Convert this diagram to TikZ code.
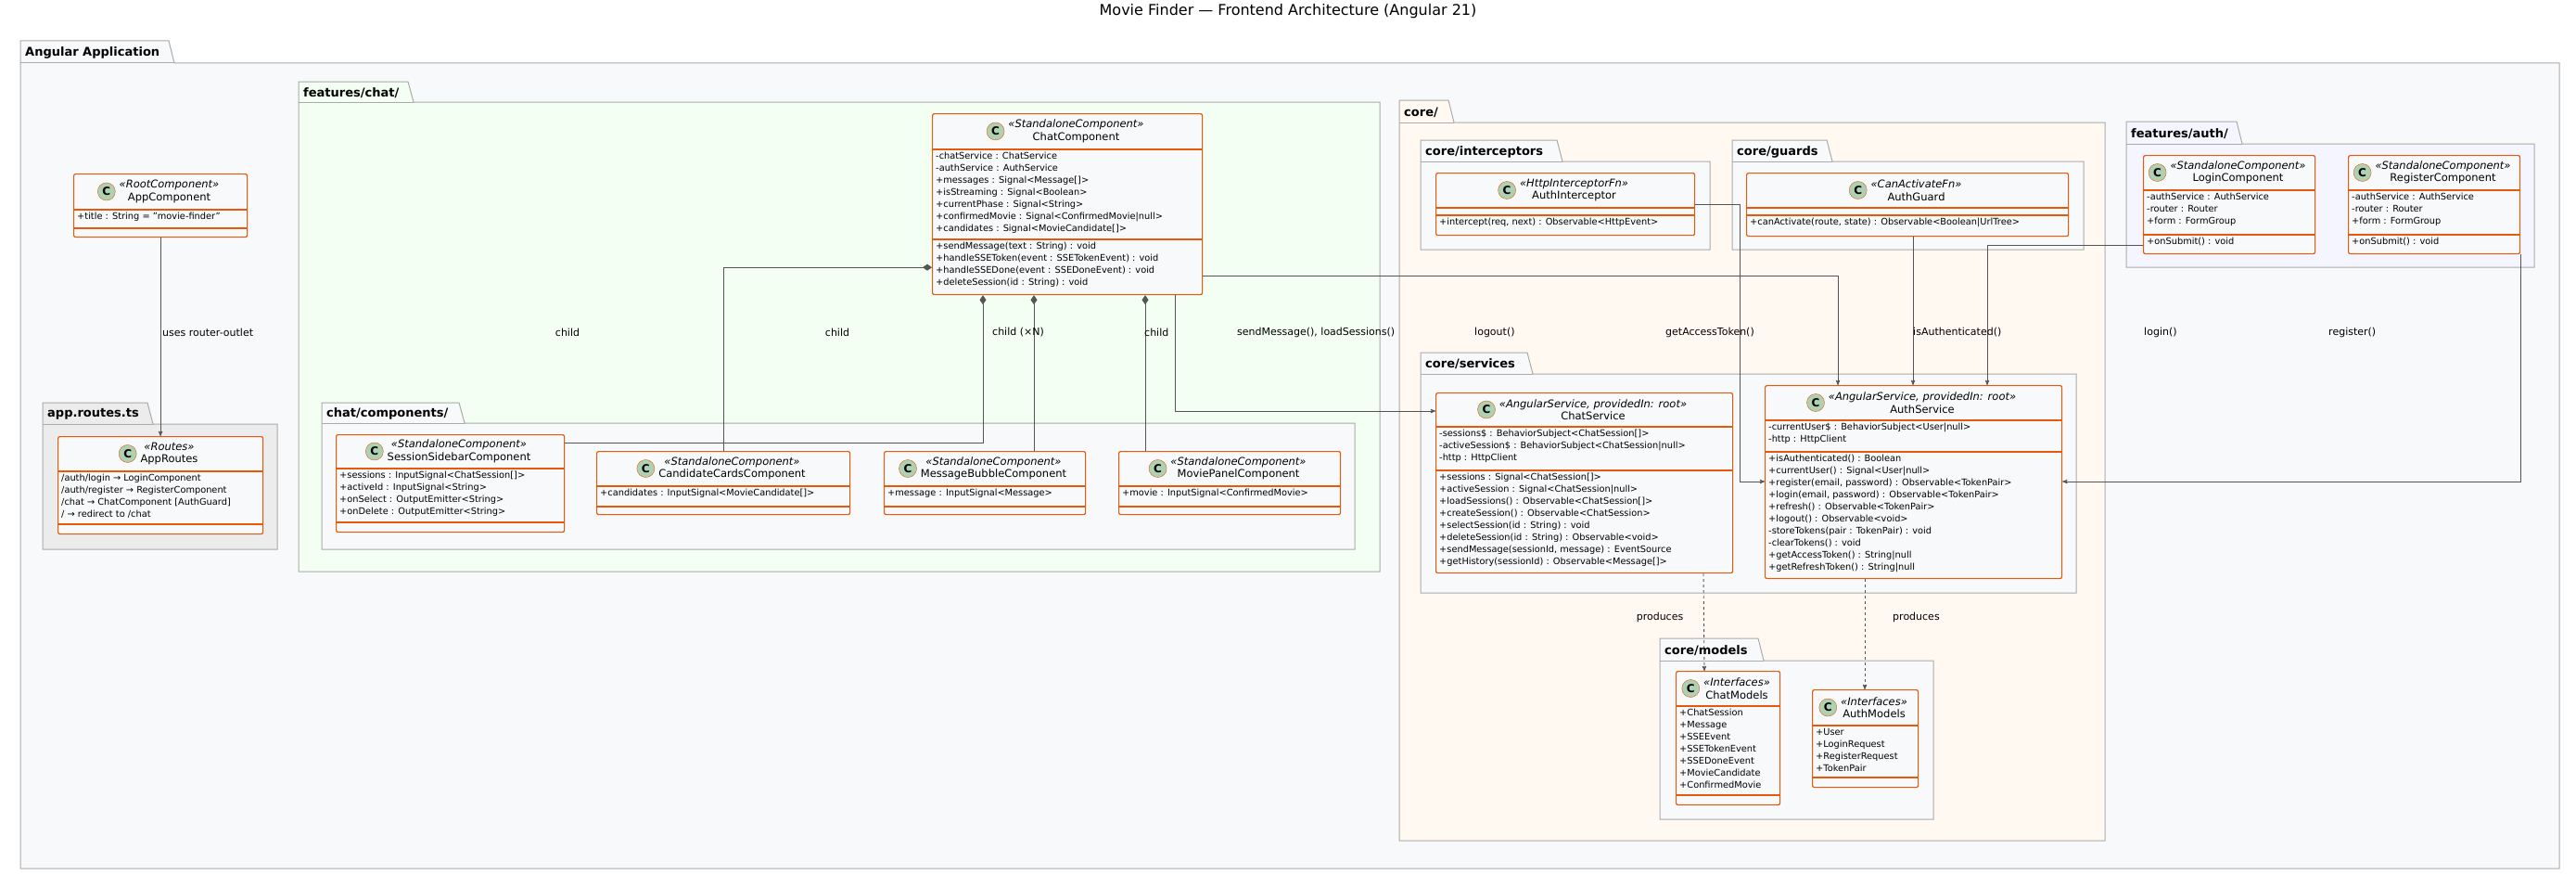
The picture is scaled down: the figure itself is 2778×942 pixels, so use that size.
\documentclass[tikz,border=0pt]{standalone}
\usepackage{fontspec}
\setmainfont{DejaVu Sans}
\usetikzlibrary{arrows,arrows.meta,positioning}

\definecolor{umlorange}{HTML}{E8590C}
\definecolor{umlfill}{HTML}{F8F9FA}
\definecolor{badge}{HTML}{ADD1B2}
\definecolor{pkgline}{HTML}{AAAAAA}
\definecolor{edge}{HTML}{555555}

\tikzset{
  cls/.style={rectangle,draw=umlorange,fill=umlfill,line width=1.2pt,rounded corners=2pt,inner sep=0pt},
  clsline/.style={draw=umlorange,line width=1.2pt},
  hdr/.style={align=center,inner sep=1pt,font=\fontsize{11.5}{13.5}\selectfont},
  cbadge/.style={circle,draw=umlorange,fill=badge,inner sep=0pt,minimum size=19pt,font=\bfseries\fontsize{12}{12}\selectfont},
  members/.style={align=left,anchor=north west,inner sep=0pt,font=\fontsize{9.8}{13}\selectfont},
  pkg/.style={draw=pkgline,line width=1pt},
  pkglabel/.style={anchor=west,inner sep=0pt,font=\bfseries\fontsize{13}{13}\selectfont},
  conn/.style={draw=edge,line width=0.9pt},
  lbl/.style={font=\fontsize{11}{13}\selectfont,inner sep=1pt},
  comp/.style={conn,{Diamond[fill=edge,length=10pt,width=7pt]}-},
}

% class box: id, x1, y1, x2, y2, header bottom, compartment line, header text
\newcommand{\umlclass}[8]{%
  \pgfmathsetmacro\clw{#4-#2}\pgfmathsetmacro\clh{#5-#3}%
  \node[cls,minimum width=\clw pt,minimum height=\clh pt,anchor=north west] (#1) at (#2,#3) {};
  \draw[clsline] (#2,#6) -- (#4,#6);
  \draw[clsline] (#2,#7) -- (#4,#7);
  \node[hdr] (#1-h) at ({(#2+#4)/2+10},{(#3+#6)/2}) {#8};
  \node[cbadge,left=3pt of #1-h] {C};
}
% package: x1, tab top, tab right, body top, x2, y2, fill, label
\newcommand{\umlpkg}[8]{%
  \draw[pkg,fill=#7] (#1,#2) -- ({#3-6},#2) -- (#3,#4) -- (#5,#4) -- (#5,#6) -- (#1,#6) -- cycle;
  \draw[pkg] (#1,#4) -- (#3,#4);
  \node[pkglabel] at ({#1+5},{(#2+#4)/2+1}) {#8};
}

\begin{document}
\begin{tikzpicture}[x=1pt,y=-1pt,>=stealth']
  \useasboundingbox (0,0) rectangle (2778,942);

  \node[font=\fontsize{16}{16}\selectfont] (title) at (1389,12) {Movie Finder — Frontend Architecture (Angular 21)};

  % packages
  \umlpkg{22}{44}{188}{68}{2760}{936}{umlfill}{Angular Application}
  \umlpkg{322}{88}{446}{110}{1488}{616}{green!5!white}{features/chat/}
  \umlpkg{347}{434}{501}{456}{1461}{592}{umlfill}{chat/components/}
  \umlpkg{46}{434}{165}{457}{299}{592}{gray!15!white}{app.routes.ts}
  \umlpkg{1509}{108}{1568}{132}{2270}{906}{orange!5!white}{core/}
  \umlpkg{1532}{151}{1685}{174}{1844}{269}{umlfill}{core/interceptors}
  \umlpkg{1868}{151}{1976}{174}{2247}{269}{umlfill}{core/guards}
  \umlpkg{1532}{380}{1653}{403}{2239}{639}{umlfill}{core/services}
  \umlpkg{1790}{688}{1902}{712}{2085}{883}{umlfill}{core/models}
  \umlpkg{2293}{131}{2418}{155}{2733}{288}{blue!4!white}{features/auth/}

  % classes
  \umlclass{appcomp}{79}{187}{266}{255}{226}{246}{\textit{«RootComponent»}\\AppComponent}
  \node[members] at (83,229) {+title : String = "movie-finder"};

  \umlclass{approutes}{62}{470}{283}{575}{508}{565}{\textit{«Routes»}\\AppRoutes}
  \node[members] at (66,511) {/auth/login → LoginComponent\\/auth/register → RegisterComponent\\/chat → ChatComponent [AuthGuard]\\/ → redirect to /chat};

  \umlclass{chatcomp}{1005}{122}{1296}{317}{161}{258}{\textit{«StandaloneComponent»}\\ChatComponent}
  \node[members] at (1009,164) {-chatService : ChatService\\-authService : AuthService\\+messages : Signal<Message[]>\\+isStreaming : Signal<Boolean>\\+currentPhase : Signal<String>\\+confirmedMovie : Signal<ConfirmedMovie|null>\\+candidates : Signal<MovieCandidate[]>};
  \node[members] at (1009,261) {+sendMessage(text : String) : void\\+handleSSEToken(event : SSETokenEvent) : void\\+handleSSEDone(event : SSEDoneEvent) : void\\+deleteSession(id : String) : void};

  \umlclass{sidebar}{362}{468}{608}{573}{505}{563}{\textit{«StandaloneComponent»}\\SessionSidebarComponent}
  \node[members] at (366,508) {+sessions : InputSignal<ChatSession[]>\\+activeId : InputSignal<String>\\+onSelect : OutputEmitter<String>\\+onDelete : OutputEmitter<String>};

  \umlclass{cards}{643}{486}{916}{554}{524}{546}{\textit{«StandaloneComponent»}\\CandidateCardsComponent}
  \node[members] at (647,527) {+candidates : InputSignal<MovieCandidate[]>};

  \umlclass{bubble}{953}{486}{1170}{554}{524}{546}{\textit{«StandaloneComponent»}\\MessageBubbleComponent}
  \node[members] at (957,527) {+message : InputSignal<Message>};

  \umlclass{moviepanel}{1206}{486}{1445}{554}{524}{546}{\textit{«StandaloneComponent»}\\MoviePanelComponent}
  \node[members] at (1210,527) {+movie : InputSignal<ConfirmedMovie>};

  \umlclass{interceptor}{1548}{186}{1827}{253}{224}{232}{\textit{«HttpInterceptorFn»}\\AuthInterceptor}
  \node[members] at (1552,235) {+intercept(req, next) : Observable<HttpEvent>};

  \umlclass{guard}{1883}{186}{2230}{254}{224}{232}{\textit{«CanActivateFn»}\\AuthGuard}
  \node[members] at (1887,235) {+canActivate(route, state) : Observable<Boolean|UrlTree>};

  \umlclass{chatsvc}{1548}{423}{1868}{617}{460}{507}{\textit{«AngularService, providedIn: root»}\\ChatService}
  \node[members] at (1552,463) {-sessions\$ : BehaviorSubject<ChatSession[]>\\-activeSession\$ : BehaviorSubject<ChatSession|null>\\-http : HttpClient};
  \node[members] at (1552,510) {+sessions : Signal<ChatSession[]>\\+activeSession : Signal<ChatSession|null>\\+loadSessions() : Observable<ChatSession[]>\\+createSession() : Observable<ChatSession>\\+selectSession(id : String) : void\\+deleteSession(id : String) : Observable<void>\\+sendMessage(sessionId, message) : EventSource\\+getHistory(sessionId) : Observable<Message[]>};

  \umlclass{authsvc}{1903}{415}{2223}{623}{453}{487}{\textit{«AngularService, providedIn: root»}\\AuthService}
  \node[members] at (1907,456) {-currentUser\$ : BehaviorSubject<User|null>\\-http : HttpClient};
  \node[members] at (1907,490) {+isAuthenticated() : Boolean\\+currentUser() : Signal<User|null>\\+register(email, password) : Observable<TokenPair>\\+login(email, password) : Observable<TokenPair>\\+refresh() : Observable<TokenPair>\\+logout() : Observable<void>\\-storeTokens(pair : TokenPair) : void\\-clearTokens() : void\\+getAccessToken() : String|null\\+getRefreshToken() : String|null};

  \umlclass{login}{2311}{167}{2496}{273}{205}{253}{\textit{«StandaloneComponent»}\\LoginComponent}
  \node[members] at (2315,208) {-authService : AuthService\\-router : Router\\+form : FormGroup};
  \node[members] at (2315,256) {+onSubmit() : void};

  \umlclass{register}{2532}{167}{2717}{273}{205}{253}{\textit{«StandaloneComponent»}\\RegisterComponent}
  \node[members] at (2536,208) {-authService : AuthService\\-router : Router\\+form : FormGroup};
  \node[members] at (2536,256) {+onSubmit() : void};

  \umlclass{chatmodels}{1807}{723}{1919}{867}{761}{857}{\textit{«Interfaces»}\\ChatModels}
  \node[members] at (1811,764) {+ChatSession\\+Message\\+SSEEvent\\+SSETokenEvent\\+SSEDoneEvent\\+MovieCandidate\\+ConfirmedMovie};

  \umlclass{authmodels}{1954}{743}{2068}{848}{782}{838}{\textit{«Interfaces»}\\AuthModels}
  \node[members] at (1958,785) {+User\\+LoginRequest\\+RegisterRequest\\+TokenPair};

  % connectors
  \draw[conn,->] (appcomp.south) -- (approutes.north);
  \draw[comp] ([xshift=55pt]chatcomp.south west) |- ([yshift=-9pt]sidebar.north east);
  \draw[comp] ([yshift=30pt]chatcomp.south west) -| (cards.north);
  \draw[comp] ([xshift=110pt]chatcomp.south west) -- ([xshift=162pt]bubble.north west);
  \draw[comp] ([xshift=230pt]chatcomp.south west) -- ([xshift=29pt]moviepanel.north west);
  \draw[conn,->] ([xshift=-30pt]chatcomp.south east) |- ([yshift=-20pt]chatsvc.north west);
  \draw[conn,->] ([yshift=21pt]chatcomp.south east) -| ([xshift=79pt]authsvc.north west);
  \draw[conn,->] ([yshift=-34pt]interceptor.north east) -| +(48,0) |- ([yshift=-104pt]authsvc.north west);
  \draw[conn,->] ([xshift=180pt]guard.south west) -- ([xshift=160pt]authsvc.north west);
  \draw[conn,->] ([yshift=10pt]login.south west) -| ([xshift=240pt]authsvc.north west);
  \draw[conn,->] ([xshift=93pt]register.south) |- ([yshift=-104pt]authsvc.north east);
  \draw[conn,->,dashed] ([xshift=289pt]chatsvc.south west) -- ([xshift=31pt]chatmodels.north west);
  \draw[conn,->,dashed] ([xshift=108pt]authsvc.south west) -- ([xshift=57pt]authmodels.north west);

  % connector labels
  \node[lbl,anchor=west] at (174,358) {uses router-outlet};
  \node[lbl] at (612,358) {child};
  \node[lbl] at (903,358) {child};
  \node[lbl,anchor=west] at (1069,358) {child (×N)};
  \node[lbl,anchor=west] at (1233,358) {child};
  \node[lbl,anchor=west] at (1333,358) {sendMessage(), loadSessions()};
  \node[lbl,anchor=west] at (1589,358) {logout()};
  \node[lbl,anchor=west] at (1795,358) {getAccessToken()};
  \node[lbl,anchor=west] at (2062,358) {isAuthenticated()};
  \node[lbl,anchor=west] at (2311,358) {login()};
  \node[lbl,anchor=west] at (2510,358) {register()};
  \node[lbl] at (1790,665) {produces};
  \node[lbl,anchor=west] at (2040,665) {produces};
\end{tikzpicture}
\end{document}
